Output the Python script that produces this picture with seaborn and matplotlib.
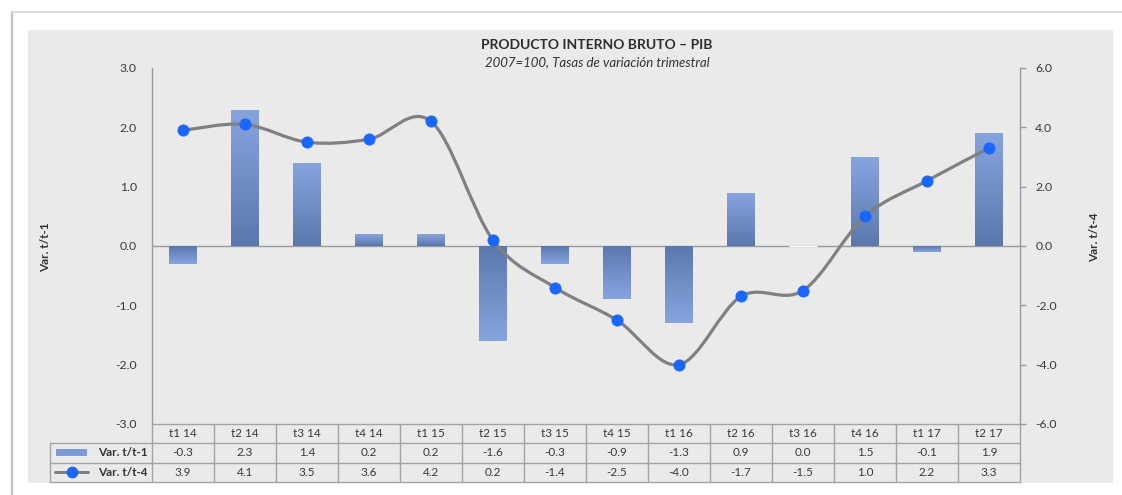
import numpy as np
import pandas as pd
import seaborn as sns
import matplotlib.pyplot as plt
from matplotlib.path import Path
from matplotlib.patches import PathPatch, Rectangle
from matplotlib.lines import Line2D
from matplotlib.colors import LinearSegmentedColormap

periods = ["t1 14", "t2 14", "t3 14", "t4 14", "t1 15", "t2 15", "t3 15",
           "t4 15", "t1 16", "t2 16", "t3 16", "t4 16", "t1 17", "t2 17"]
var_t1 = [-0.3, 2.3, 1.4, 0.2, 0.2, -1.6, -0.3, -0.9, -1.3, 0.9, 0.0, 1.5, -0.1, 1.9]
var_t4 = [3.9, 4.1, 3.5, 3.6, 4.2, 0.2, -1.4, -2.5, -4.0, -1.7, -1.5, 1.0, 2.2, 3.3]

left_ticks = [-3, -2, -1, 0, 1, 2, 3]
right_ticks = [-6, -4, -2, 0, 2, 4, 6]

W, H = 1122, 495
BAR_COLOR = "#6f8fca"
LINE_COLOR = "#808080"
MARKER_COLOR = "#1a66ff"
GRID_COLOR = "#9a9a9a"
TEXT_COLOR = "#3a3a3a"


def fx(px):
    return px / W


def fy(py):
    return 1 - py / H


sns.set_style("white")
plt.rcParams["font.family"] = ["Lato", "DejaVu Sans"]

fig = plt.figure(figsize=(W / 100, H / 100), dpi=100)
fig.patch.set_facecolor("white")

# outer frame and grey chart area
fig.add_artist(Rectangle((fx(28), fy(483)), fx(1113) - fx(28), fy(30) - fy(483),
                         transform=fig.transFigure, facecolor="#eaeaea",
                         edgecolor="none", zorder=0))
fig.add_artist(Line2D([fx(12), fx(12)], [fy(12), fy(495)], transform=fig.transFigure,
                      color="#c4c4c4", lw=1.6, zorder=1))
fig.add_artist(Line2D([fx(12), fx(1122)], [fy(12), fy(12)], transform=fig.transFigure,
                      color="#d6d6d6", lw=1.2, zorder=1))

ax = fig.add_axes([fx(152), fy(424), fx(1020) - fx(152), fy(68) - fy(424)])
ax.patch.set_alpha(0)

df = pd.DataFrame({"periodo": periods, "var_t1": var_t1, "var_t4": var_t4})
sns.barplot(data=df, x="periodo", y="var_t1", color=BAR_COLOR, width=0.44,
            saturation=1, ax=ax, zorder=2)

# vertical gradient inside each bar: dark at the base, light at the tip
cmap = LinearSegmentedColormap.from_list("bar", ["#88a4dd", "#5a78ae"])
grad = np.linspace(1, 0, 256).reshape(-1, 1)
for p in list(ax.patches):
    x0, y0 = p.get_x(), p.get_y()
    w, h = p.get_width(), p.get_height()
    if h == 0:
        continue
    lo, hi = min(y0, y0 + h), max(y0, y0 + h)
    g = grad if h > 0 else grad[::-1]
    im = ax.imshow(g, cmap=cmap, aspect="auto", origin="lower",
                   extent=(x0, x0 + w, lo, hi), zorder=2)
    im.set_clip_path(p)
    p.set_facecolor("none")
    p.set_edgecolor("none")

ax.set_xlim(-0.5, len(periods) - 0.5)
ax.set_ylim(-3, 3)
ax.axhline(0, color=GRID_COLOR, lw=1, zorder=1)
ax.set_yticks(left_ticks)
ax.set_yticklabels([f"{v:.1f}" for v in left_ticks])
ax.tick_params(axis="y", length=0, pad=11, labelsize=8.8, labelcolor=TEXT_COLOR)
ax.tick_params(axis="x", length=0, labelbottom=False)
ax.set_xlabel("")
ax.set_ylabel("")
for s in ["top", "bottom", "right"]:
    ax.spines[s].set_visible(False)
ax.spines["left"].set_color(GRID_COLOR)
ax.spines["left"].set_linewidth(1)

# second axis: year-on-year variation
ax2 = ax.twinx()
ax2.set_ylim(-6, 6)
xs = np.arange(len(periods))
ys = np.array(var_t4, dtype=float)

# smoothed line (Bezier through the points, like a spreadsheet "smoothed line")
verts = [(xs[0], ys[0])]
codes = [Path.MOVETO]
n = len(xs)
for i in range(n - 1):
    pm = (xs[max(i - 1, 0)], ys[max(i - 1, 0)])
    p0 = (xs[i], ys[i])
    p1 = (xs[i + 1], ys[i + 1])
    p2 = (xs[min(i + 2, n - 1)], ys[min(i + 2, n - 1)])
    c1 = (p0[0] + (p1[0] - pm[0]) / 6, p0[1] + (p1[1] - pm[1]) / 6)
    c2 = (p1[0] - (p2[0] - p0[0]) / 6, p1[1] - (p2[1] - p0[1]) / 6)
    verts += [c1, c2, p1]
    codes += [Path.CURVE4] * 3
ax2.add_patch(PathPatch(Path(verts, codes), facecolor="none", edgecolor=LINE_COLOR,
                        lw=2.3, capstyle="round", zorder=3))
sns.scatterplot(x=xs, y=ys, ax=ax2, color=MARKER_COLOR, s=66, edgecolor=MARKER_COLOR,
                linewidth=0.5, zorder=4, legend=False)

ax2.set_xlim(-0.5, len(periods) - 0.5)
ax2.set_yticks(right_ticks)
ax2.set_yticklabels([f"{v:.1f}" for v in right_ticks])
ax2.tick_params(axis="y", length=4, width=1, color=GRID_COLOR, pad=7,
                labelsize=8.8, labelcolor=TEXT_COLOR)
for s in ["top", "bottom", "left"]:
    ax2.spines[s].set_visible(False)
ax2.spines["right"].set_color(GRID_COLOR)
ax2.spines["right"].set_linewidth(1)
ax2.set_ylabel("")

# data table under the plot
tr = ax.get_xaxis_transform()
row_y = [0, -19 / 356, -39 / 356, -58 / 356]
lbl_x = (50 - 152) / 868
tkw = dict(color="#a3a3a3", lw=1, clip_on=False)
ax.plot([-0.5, len(periods) - 0.5], [row_y[0]] * 2, transform=tr, **tkw)
for yy in row_y[1:]:
    ax.plot([lbl_x, 1], [yy, yy], transform=ax.transAxes, **tkw)
for i in range(len(periods) + 1):
    ax.plot([i - 0.5, i - 0.5], [row_y[0], row_y[3]], transform=tr, **tkw)
ax.plot([lbl_x, lbl_x], [row_y[1], row_y[3]], transform=ax.transAxes, **tkw)

cell_kw = dict(transform=tr, ha="center", va="center", fontsize=8.5,
               color=TEXT_COLOR, clip_on=False)
for i, (p, a, b) in enumerate(zip(periods, var_t1, var_t4)):
    ax.text(i, (row_y[0] + row_y[1]) / 2, p, **cell_kw)
    ax.text(i, (row_y[1] + row_y[2]) / 2, f"{a:.1f}", **cell_kw)
    ax.text(i, (row_y[2] + row_y[3]) / 2, f"{b:.1f}", **cell_kw)

fig.text(fx(148), fy(453), "Var. t/t-1", ha="right", va="center", fontsize=8.5,
         color="#333333", fontweight="bold")
fig.text(fx(148), fy(472), "Var. t/t-4", ha="right", va="center", fontsize=8.5,
         color="#333333", fontweight="bold")
fig.add_artist(Rectangle((fx(56), fy(456)), fx(87) - fx(56), fy(449) - fy(456),
                         transform=fig.transFigure, facecolor="#7d9ad2",
                         edgecolor="none", zorder=3))
fig.add_artist(Line2D([fx(55), fx(88)], [fy(472), fy(472)], transform=fig.transFigure,
                      color=LINE_COLOR, lw=2.2, zorder=3))
fig.add_artist(Line2D([fx(72)], [fy(472)], transform=fig.transFigure, marker="o",
                      markersize=7.5, color=MARKER_COLOR, zorder=4))

# titles and axis labels
fig.text(fx(597), fy(45), "PRODUCTO INTERNO BRUTO – PIB", ha="center", va="center",
         fontsize=10, fontweight="bold", color="#2e2e2e")
fig.text(fx(597), fy(62), "2007=100, Tasas de variación trimestral", ha="center",
         va="center", fontsize=9.5, style="italic", color="#333333")
fig.text(fx(46), fy(247), "Var. t/t-1", rotation=90, ha="center", va="center",
         fontsize=8.5, fontweight="bold", color="#333333")
fig.text(fx(1095), fy(237), "Var. t/t-4", rotation=90, ha="center", va="center",
         fontsize=8.5, fontweight="bold", color="#333333")

fig.savefig("out.png", dpi=100, facecolor=fig.get_facecolor())
